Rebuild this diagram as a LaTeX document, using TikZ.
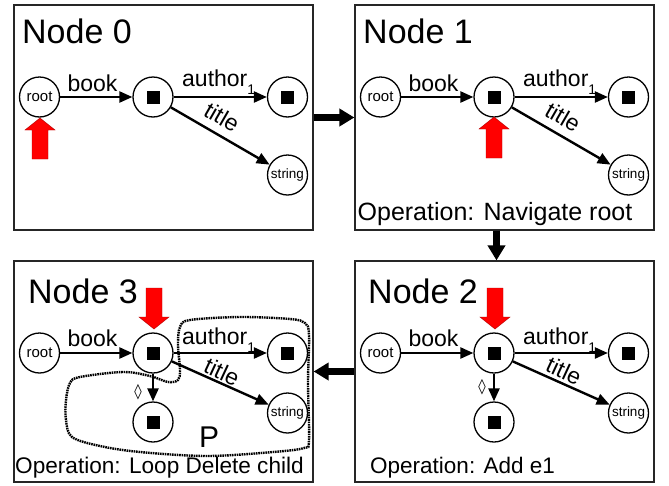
\documentclass[tikz,border=0pt]{standalone}
\usepackage{fontspec}
\setmainfont{Liberation Sans}
\newfontfamily\symfnt{DejaVu Sans}
\usetikzlibrary{arrows.meta}
\begin{document}
\begin{tikzpicture}[x=1pt,y=-1pt,
  panel/.style={draw=black!85, line width=1.2pt, minimum width=299pt, inner sep=0},
  vtx/.style={circle, draw, line width=1.3pt, minimum size=40pt, inner sep=0, fill=white},
  edge/.style={line width=2.4pt, -{Triangle[length=13pt,width=11pt]}},
  flow/.style={line width=7pt, -{Triangle[length=15pt,width=17pt]}},
  lbl/.style={font=\fontsize{23}{23}\selectfont, inner sep=0},
  ttl/.style={font=\fontsize{34}{34}\selectfont, inner sep=0, anchor=base west},
  optxt/.style={inner sep=0},
  rootf/.style={font=\fontsize{15}{15}\selectfont},
  strf/.style={font=\fontsize{13.5}{13.5}\selectfont},
  dia/.style={font=\symfnt\fontsize{15}{15}\selectfont, inner sep=0},
  redup/.pic={\filldraw[fill=red, draw=red!70!black, line width=0.4pt] (0,0) -- (15,12) -- (8,12) -- (8,41) -- (-8,41) -- (-8,12) -- (-15,12) -- cycle;},
  reddown/.pic={\filldraw[fill=red, draw=red!70!black, line width=0.4pt] (0,0) -- (15,-12) -- (8,-12) -- (8,-41) -- (-8,-41) -- (-8,-12) -- (-15,-12) -- cycle;}
]
\useasboundingbox (0,0) rectangle (669,485);
\newcommand{\blk}{\rule{13pt}{13pt}}
\newcommand{\authlbl}{author\raisebox{-8pt}{\fontsize{14}{14}\selectfont 1}}

% ---------- Panel 0 ----------
\node[panel, minimum height=225pt] (box0) at (163.5,117.5) {};
\node[ttl] (t0) at (22,43) {Node 0};
\node[vtx, rootf] (r0) at (39.5,97) {root};
\node[vtx] (m0) at (153,97) {\blk};
\node[vtx] (a0) at (287.5,97) {\blk};
\node[vtx, strf] (s0) at (287.5,175) {string};
\draw[edge] (r0) -- (m0);
\draw[edge] (m0) -- (a0);
\draw[edge] (m0) -- (s0);
\node[lbl, anchor=base] (lb0) at (92.5,91) {book};
\node[lbl, anchor=base west] (la0) at (182,86) {\authlbl};
\node[lbl, rotate=-30] (lt0) at (222,117) {title};
\pic at (40,118) {redup};

% ---------- Panel 1 ----------
\begin{scope}[shift={(341,0)}]
\node[panel, minimum height=225pt] (box1) at (163.5,117.5) {};
\node[ttl] (t1) at (22,43) {Node 1};
\node[vtx, rootf] (r1) at (39.5,97) {root};
\node[vtx] (m1) at (153,97) {\blk};
\node[vtx] (a1) at (287.5,97) {\blk};
\node[vtx, strf] (s1) at (287.5,175) {string};
\draw[edge] (r1) -- (m1);
\draw[edge] (m1) -- (a1);
\draw[edge] (m1) -- (s1);
\node[lbl, anchor=base] (lb1) at (92.5,91) {book};
\node[lbl, anchor=base west] (la1) at (182,86) {\authlbl};
\node[lbl, rotate=-30] (lt1) at (222,117) {title};
\pic at (153,117) {redup};
\end{scope}
\node[optxt, anchor=base, font=\fontsize{25}{25}\selectfont] (op1) at (495,220) {Operation: Navigate root};

% ---------- Panel 2 ----------
\begin{scope}[shift={(341,256)}]
\node[panel, minimum height=221pt] (box2) at (163.5,115.5) {};
\node[ttl] (t2) at (27,47) {Node 2};
\node[vtx, rootf] (r2) at (39.5,97) {root};
\node[vtx] (m2) at (153,97) {\blk};
\node[vtx] (a2) at (287.5,97) {\blk};
\node[vtx, strf] (s2) at (287.5,157) {string};
\node[vtx] (c2) at (153,166) {\blk};
\draw[edge] (r2) -- (m2);
\draw[edge] (m2) -- (a2);
\draw[edge] (m2) -- (s2);
\draw[edge] (m2) -- (c2);
\node[lbl, anchor=base] (lb2) at (92.5,90) {book};
\node[lbl, anchor=base west] (la2) at (182,88) {\authlbl};
\node[lbl, rotate=-25] (lt2) at (223,115) {title};
\node[dia] (d2) at (141,131) {◊};
\pic at (154,73) {reddown};
\end{scope}
\node[optxt, anchor=base west, font=\fontsize{22.5}{22.5}\selectfont] (op2) at (370,473) {Operation: Add e1};

% ---------- Panel 3 ----------
\begin{scope}[shift={(0,256)}]
\node[panel, minimum height=221pt] (box3) at (163.5,115.5) {};
\node[ttl] (t3) at (28,47) {Node 3};
\node[vtx, rootf] (r3) at (39.5,97) {root};
\node[vtx] (m3) at (153,97) {\blk};
\node[vtx] (a3) at (287.5,97) {\blk};
\node[vtx, strf] (s3) at (287.5,157) {string};
\node[vtx] (c3) at (153,166) {\blk};
\draw[edge] (r3) -- (m3);
\draw[edge] (m3) -- (a3);
\draw[edge] (m3) -- (s3);
\draw[edge] (m3) -- (c3);
\node[lbl, anchor=base] (lb3) at (92.5,90) {book};
\node[lbl, anchor=base west] (la3) at (182,88) {\authlbl};
\node[lbl, rotate=-25] (lt3) at (222,116) {title};
\node[dia] (d3) at (138,136) {◊};
\node[anchor=base west, inner sep=0, font=\fontsize{30}{30}\selectfont] (p3) at (199,191) {P};
\pic at (154,73) {reddown};
\end{scope}
\node[optxt, anchor=base west, font=\fontsize{22.6}{22.6}\selectfont] (op3) at (15,473) {Operation: Loop Delete child};

\draw[line width=2.4pt, dash pattern=on 1.6pt off 0.8pt]
  plot[smooth cycle, tension=0.55] coordinates {
  (190,320) (240,317) (290,319) (305,323) (309,335) (308,383) (309,440) (304,448)
  (273,452) (207,456) (140,452) (100,446) (72,437) (66,420) (66,400) (70,383)
  (80,377) (123,372) (150,376) (168,382) (178,380) (180,370) (178,345) (180,327)};

% ---------- flow arrows ----------
\draw[flow] (box0.east) -- (box1.west);
\draw[flow] ([xshift=-8pt]box1.south) -- ([xshift=-8pt]box2.north);
\draw[flow] (box2.west) -- (box3.east);
\end{tikzpicture}
\end{document}
